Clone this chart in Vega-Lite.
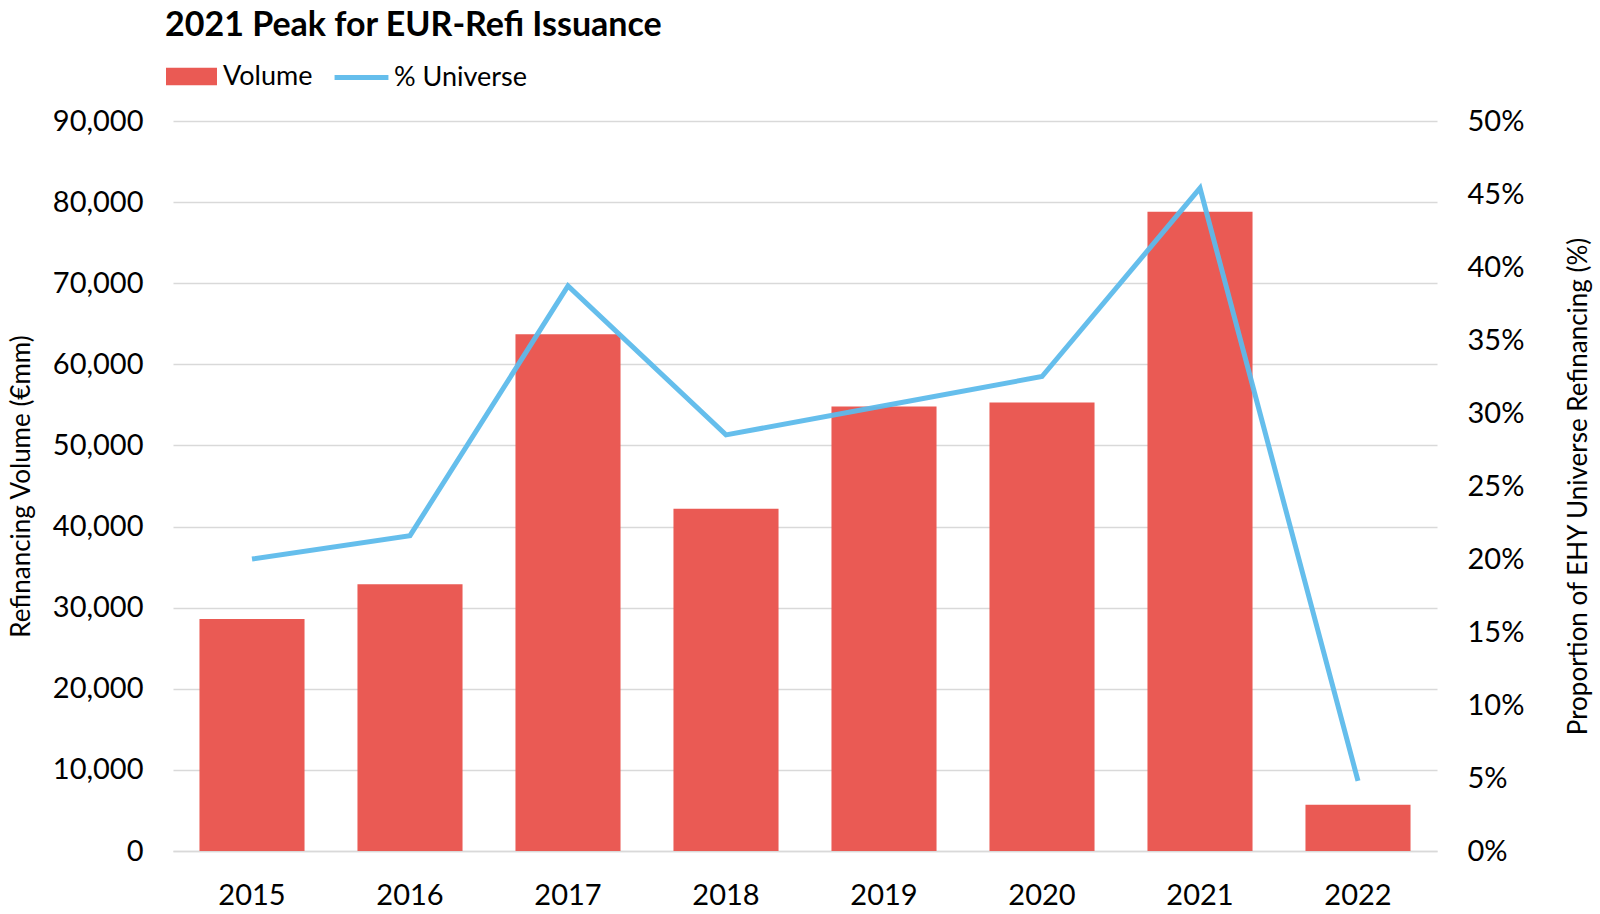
{
  "$schema": "https://vega.github.io/schema/vega-lite/v6.json",
  "autosize": {"type": "none"},
  "width": 1264,
  "height": 730,
  "padding": {"left": 173, "top": 121, "right": 163, "bottom": 63},
  "background": "white",
  "config": {
    "font": "Lato",
    "view": {"stroke": null},
    "legend": {"padding": 0}
  },
  "title": {
    "text": "2021 Peak for EUR-Refi Issuance",
    "anchor": "start",
    "frame": "group",
    "fontSize": 34,
    "fontWeight": "bold",
    "font": "Lato",
    "color": "#000000",
    "dx": -8,
    "baseline": "alphabetic",
    "offset": -22
  },
  "data": {
    "values": [
      {"year": "2015", "volume": 28600, "universe": 0.200},
      {"year": "2016", "volume": 32900, "universe": 0.216},
      {"year": "2017", "volume": 63700, "universe": 0.387},
      {"year": "2018", "volume": 42200, "universe": 0.285},
      {"year": "2019", "volume": 54800, "universe": 0.305},
      {"year": "2020", "volume": 55300, "universe": 0.325},
      {"year": "2021", "volume": 78800, "universe": 0.454},
      {"year": "2022", "volume": 5700, "universe": 0.048}
    ]
  },
  "encoding": {
    "x": {
      "field": "year",
      "type": "ordinal",
      "scale": {"paddingInner": 0.335, "paddingOuter": 0.1675},
      "axis": {
        "title": null,
        "labelAngle": 0,
        "labelFontSize": 29,
        "labelColor": "#000000",
        "labelPadding": 30,
        "ticks": false,
        "domainColor": "#d9d9d9",
        "domainWidth": 1.5,
        "grid": false
      }
    }
  },
  "layer": [
    {
      "mark": {"type": "bar", "color": "#EA5A54"},
      "encoding": {
        "y": {
          "field": "volume",
          "type": "quantitative",
          "scale": {"domain": [0, 90000], "nice": false},
          "axis": {
            "values": [0, 10000, 20000, 30000, 40000, 50000, 60000, 70000, 80000, 90000],
            "format": ",.0f",
            "title": "Refinancing Volume (€mm)",
            "titleFontSize": 26,
            "titleFontWeight": "normal",
            "titleColor": "#000000",
            "titlePadding": 18,
            "labelFontSize": 29,
            "labelColor": "#000000",
            "labelPadding": 30,
            "ticks": false,
            "domain": false,
            "grid": true,
            "gridColor": "#d9d9d9",
            "gridWidth": 1.5
          }
        },
        "fill": {
          "datum": "Volume",
          "scale": {"range": ["#EA5A54"]},
          "legend": {
            "title": null,
            "orient": "none",
            "legendX": -7,
            "legendY": -70,
            "symbolType": "M-1,-0.34H1V0.34H-1Z",
            "symbolSize": 2600,
            "symbolStrokeWidth": 0,
            "labelFontSize": 27,
            "labelColor": "#000000",
            "labelOffset": 6
          }
        }
      }
    },
    {
      "mark": {"type": "line", "color": "#5DBBEB", "strokeWidth": 5, "opacity": 0.95},
      "encoding": {
        "y": {
          "field": "universe",
          "type": "quantitative",
          "scale": {"domain": [0, 0.5], "nice": false},
          "axis": {
            "orient": "right",
            "values": [0, 0.05, 0.1, 0.15, 0.2, 0.25, 0.3, 0.35, 0.4, 0.45, 0.5],
            "format": ".0%",
            "title": "Proportion of EHY Universe Refinancing (%)",
            "titleAngle": 270,
            "titleFontSize": 26,
            "titleFontWeight": "normal",
            "titleColor": "#000000",
            "titlePadding": 68,
            "labelFontSize": 29,
            "labelColor": "#000000",
            "labelPadding": 30,
            "ticks": false,
            "domain": false,
            "grid": false
          }
        },
        "stroke": {
          "datum": "% Universe",
          "scale": {"range": ["#5DBBEB"]},
          "legend": {
            "title": null,
            "orient": "none",
            "legendX": 159,
            "legendY": -73,
            "symbolType": "stroke",
            "symbolSize": 2900,
            "symbolStrokeWidth": 5,
            "labelFontSize": 27,
            "labelColor": "#000000",
            "labelOffset": 3
          }
        }
      }
    }
  ],
  "resolve": {"scale": {"y": "independent"}, "legend": {"fill": "independent", "stroke": "independent"}}
}
